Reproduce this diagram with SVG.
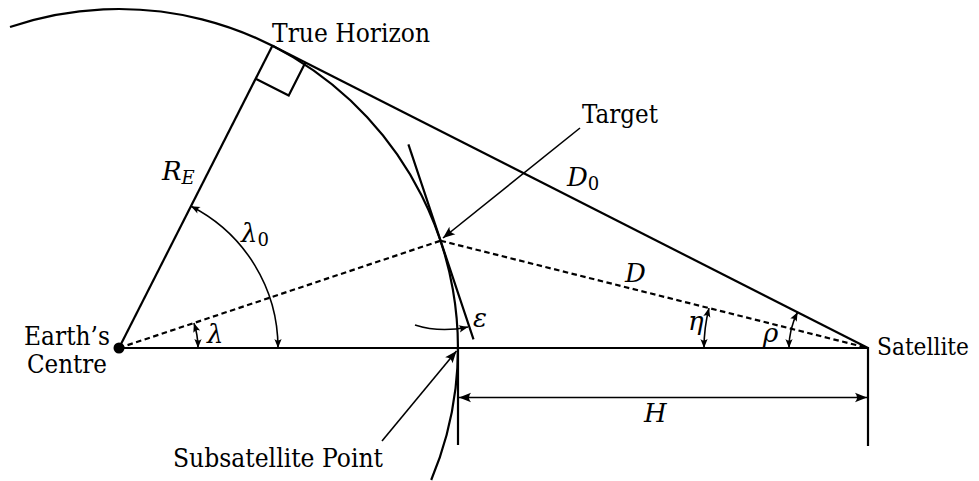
<svg xmlns="http://www.w3.org/2000/svg" width="979" height="481" viewBox="0 0 979 481">
<style>
.ln{fill:none;stroke:#000;stroke-width:2.2;stroke-linecap:butt}
.th{fill:none;stroke:#000;stroke-width:1.6}
.ds{fill:none;stroke:#000;stroke-width:2.2;stroke-dasharray:5.5 3.5}
text{fill:#000}
.t{font-size:26px}
.c{font-size:25.5px}
.m{font-size:26px;font-style:italic}
.s{font-size:18px;font-style:normal}
.si{font-size:18px;font-style:italic}
</style>
<defs>
<marker id="A" viewBox="-13 -6 14 12" markerWidth="14" markerHeight="12" refX="0" refY="0" orient="auto-start-reverse" markerUnits="userSpaceOnUse">
<path d="M0,0 L-12,-4.8 Q-8,0 -12,4.8 Z" fill="#000"/>
</marker>
<marker id="a" viewBox="-10 -5 11 10" markerWidth="11" markerHeight="10" refX="0" refY="0" orient="auto-start-reverse" markerUnits="userSpaceOnUse">
<path d="M0,0 L-9,-3.6 Q-6,0 -9,3.6 Z" fill="#000"/>
</marker>
</defs>
<rect width="979" height="481" fill="#fff"/>

<g id="earth">
<path class="ln" d="M10,27 A339 339 0 0 1 431.2,480"/>
<circle cx="119" cy="348" r="5.5" fill="#000"/>
</g>

<g id="connectors">
<line class="ln" x1="119" y1="348" x2="272.4" y2="45.7"/>
<line class="ln" x1="272.4" y1="45.7" x2="868" y2="348"/>
<polyline class="ln" points="255.7,78.7 288.7,95.4 305.4,62.4"/>
<line class="ln" x1="119" y1="348" x2="868" y2="348"/>
<line class="ds" x1="119" y1="348" x2="440.6" y2="240.7"/>
<line class="ds" x1="440.6" y1="240.7" x2="868" y2="348"/>
<line class="ln" x1="408.4" y1="144.3" x2="473.5" y2="339.3"/>
<line class="ln" x1="458" y1="347" x2="458" y2="445"/>
<line class="ln" x1="868" y1="347" x2="868" y2="446"/>
<line class="th" x1="459" y1="397.5" x2="867" y2="397.5" marker-start="url(#A)" marker-end="url(#A)"/>
<line class="th" x1="580" y1="128" x2="443" y2="238" marker-end="url(#A)"/>
<line class="th" x1="382" y1="441" x2="456.5" y2="351" marker-end="url(#A)"/>
<path class="th" d="M415,325 Q440,333 468,327" marker-end="url(#a)"/>
<path class="th" d="M191,206.2 A159 159 0 0 1 278,348" marker-start="url(#a)" marker-end="url(#a)"/>
<path class="th" d="M193.9,323 A79 79 0 0 1 198,348" marker-start="url(#a)" marker-end="url(#a)"/>
<path class="th" d="M709,308.1 A164 164 0 0 0 704,348" marker-start="url(#a)" marker-end="url(#a)"/>
<path class="th" d="M797.6,312.2 A79 79 0 0 0 789,348" marker-start="url(#a)" marker-end="url(#a)"/>
</g>

<g id="labels" font-family="DejaVu Serif, serif">
<text class="t" x="272" y="42" textLength="158" lengthAdjust="spacingAndGlyphs">True Horizon</text>
<text class="t" x="582" y="123" textLength="76" lengthAdjust="spacingAndGlyphs">Target</text>
<text x="877" y="355" font-size="24" textLength="92" lengthAdjust="spacingAndGlyphs">Satellite</text>
<text class="c" x="24" y="345" textLength="86" lengthAdjust="spacingAndGlyphs">Earth’s</text>
<text class="c" x="27" y="373" textLength="80" lengthAdjust="spacingAndGlyphs">Centre</text>
<text class="t" x="173" y="467" textLength="210" lengthAdjust="spacingAndGlyphs">Subsatellite Point</text>
<text class="m" x="162" y="180">R<tspan class="si" dy="4">E</tspan></text>
<text class="m" x="241" y="242">λ<tspan class="s" dy="4">0</tspan></text>
<text class="m" x="207" y="343">λ</text>
<text class="m" x="567" y="186">D<tspan class="s" dy="4">0</tspan></text>
<text class="m" x="625" y="282">D</text>
<text class="m" x="688" y="330">η</text>
<text class="m" x="763" y="342">ρ</text>
<text class="m" x="644" y="422">H</text>
<text class="m" x="473" y="327">ε</text>
</g>
</svg>
